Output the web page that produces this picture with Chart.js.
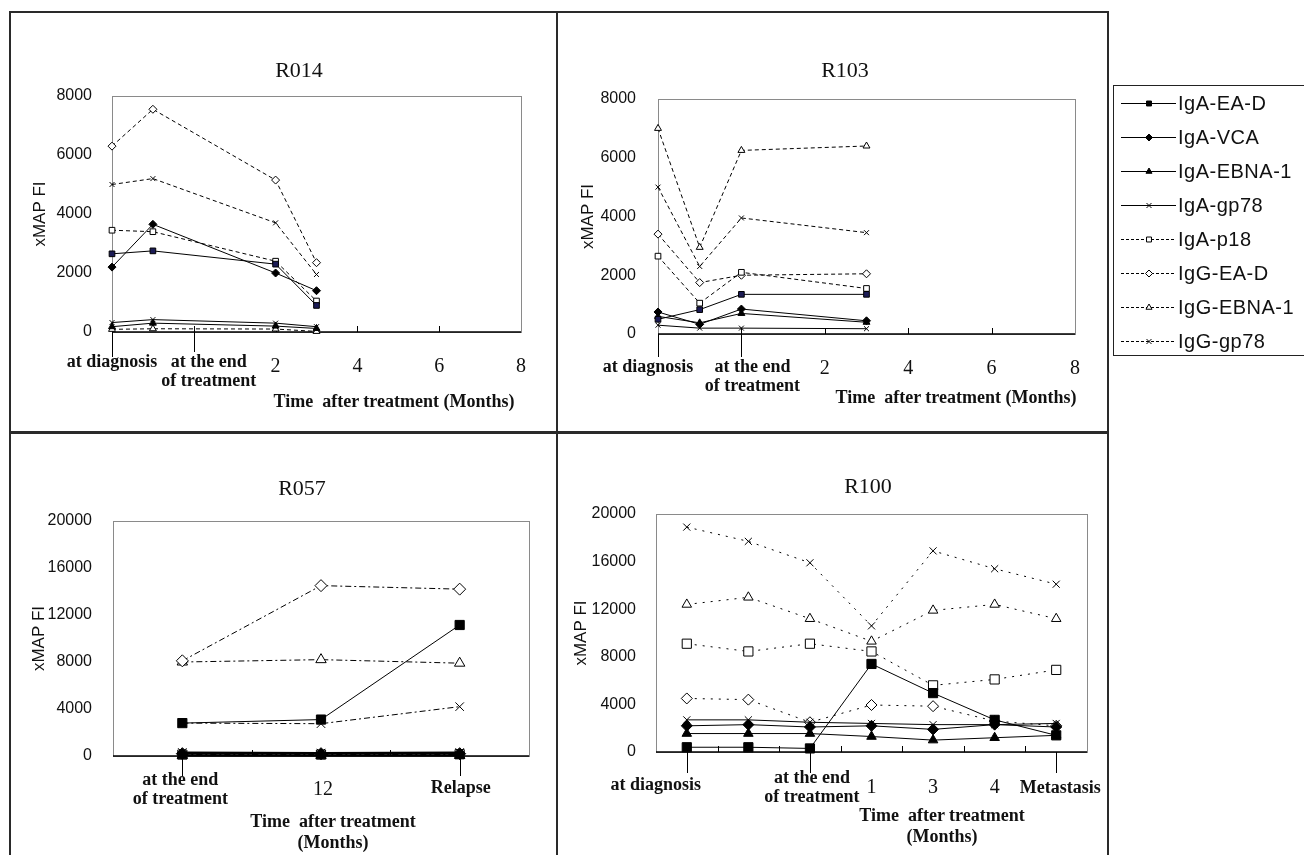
<!DOCTYPE html>
<html>
<head>
<meta charset="utf-8">
<script src="https://cdn.jsdelivr.net/npm/chart.js@4.4.1/dist/chart.umd.min.js"></script>
<style>
  html, body { margin: 0; padding: 0; background: #fff; }
  body { width: 1304px; height: 855px; position: relative; overflow: hidden; }
  .rule { position: absolute; background: #2a2a2a; }
  .panel { position: absolute; }
  .ttl { position: absolute; font-family: "Liberation Serif", serif; font-size: 22px; color: #111;
         transform: translate(-50%, -50%); white-space: nowrap; }
  .xt { position: absolute; font-family: "Liberation Serif", serif; font-weight: bold; font-size: 18px;
        color: #111; transform: translate(-50%, -50%); white-space: nowrap; text-align: center; line-height: 21px; }
  #legend { position: absolute; left: 1113px; top: 85px; width: 220px; height: 271px;
            border: 1.5px solid #222; box-sizing: border-box; }
  .lrow { position: absolute; left: 0; height: 24px; display: flex; align-items: center; }
  .lrow span { font-family: "Liberation Sans", Arial, sans-serif; font-size: 20px; letter-spacing: 0.5px;
               color: #111; margin-left: 2px; }
</style>
</head>
<body>
<div class="rule" style="left:9px;top:11px;width:1100px;height:2px"></div>
<div class="rule" style="left:9px;top:431px;width:1100px;height:3px"></div>
<div class="rule" style="left:9px;top:11px;width:2px;height:844px"></div>
<div class="rule" style="left:556px;top:11px;width:2px;height:844px"></div>
<div class="rule" style="left:1107px;top:11px;width:2px;height:844px"></div>

<canvas id="r014" class="panel" width="544" height="417" style="left:12px;top:14px"></canvas>
<canvas id="r103" class="panel" width="547" height="417" style="left:559px;top:14px"></canvas>
<canvas id="r057" class="panel" width="544" height="420" style="left:12px;top:435px"></canvas>
<canvas id="r100" class="panel" width="547" height="420" style="left:559px;top:435px"></canvas>

<div class="ttl" style="left:299px;top:70px">R014</div>
<div class="ttl" style="left:845px;top:70px">R103</div>
<div class="ttl" style="left:302px;top:488px">R057</div>
<div class="ttl" style="left:868px;top:486px">R100</div>

<div class="xt" style="left:394px;top:401px">Time&nbsp; after treatment (Months)</div>
<div class="xt" style="left:956px;top:397px">Time&nbsp; after treatment (Months)</div>
<div class="xt" style="left:333px;top:832px">Time&nbsp; after treatment<br>(Months)</div>
<div class="xt" style="left:942px;top:826px">Time&nbsp; after treatment<br>(Months)</div>

<div id="legend"></div>

<script>
const seriesNames = ['IgA-EA-D', 'IgA-VCA', 'IgA-EBNA-1', 'IgA-gp78', 'IgA-p18', 'IgG-EA-D', 'IgG-EBNA-1', 'IgG-gp78'];

// top panels: months, -2 = at diagnosis, 0 = end of treatment
const monthTicks = [-2, 0, 2, 4, 6, 8];
const monthTickLabels = [['at diagnosis'], ['at the end', 'of treatment'], ['2'], ['4'], ['6'], ['8']];

// R014
const r014Months    = [-2, -1, 2, 3];
const r014IgAEAD    = [2650, 2750, 2300, 900];
const r014IgAVCA    = [2200, 3650, 2000, 1400];
const r014IgAEBNA1  = [180, 300, 200, 120];
const r014IgAgp78   = [320, 420, 300, 180];
const r014IgAp18    = [3450, 3400, 2400, 1050];
const r014IgGEAD    = [6300, 7550, 5150, 2350];
const r014IgGEBNA1  = [90, 110, 100, 20];
const r014IgGgp78   = [5000, 5200, 3700, 1950];

// R103
const r103Months    = [-2, -1, 0, 3];
const r103IgAEAD    = [500, 830, 1350, 1350];
const r103IgAVCA    = [750, 330, 850, 450];
const r103IgAEBNA1  = [600, 380, 700, 400];
const r103IgAgp78   = [300, 200, 200, 180];
const r103IgAp18    = [2650, 1050, 2100, 1550];
const r103IgGEAD    = [3400, 1750, 2000, 2050];
const r103IgGEBNA1  = [7000, 2950, 6250, 6400];
const r103IgGgp78   = [5000, 2300, 3950, 3450];

// R057
const r057Labels    = [['at the end', 'of treatment'], ['12'], ['Relapse']];
const r057IgAEAD    = [2800, 3100, 11150];
const r057IgAVCA    = [200, 200, 200];
const r057IgAEBNA1  = [50, 50, 50];
const r057IgAgp78   = [300, 250, 300];
const r057IgAp18    = [120, 120, 150];
const r057IgGEAD    = [8100, 14500, 14200];
const r057IgGEBNA1  = [8000, 8200, 7900];
const r057IgGgp78   = [2800, 2750, 4200];

// R100
const r100Labels    = [['at diagnosis'], [''], ['at the end', 'of treatment'], ['1'], ['3'], ['4'], ['Metastasis']];
const r100IgAEAD    = [400, 400, 300, 7400, 4950, 2700, 1400];
const r100IgAVCA    = [2200, 2300, 2100, 2200, 1900, 2300, 2100];
const r100IgAEBNA1  = [1550, 1550, 1550, 1300, 1000, 1200, 1400];
const r100IgAgp78   = [2700, 2700, 2500, 2400, 2300, 2300, 2400];
const r100IgAp18    = [9100, 8450, 9100, 8450, 5600, 6100, 6900];
const r100IgGEAD    = [4500, 4400, 2500, 3950, 3850, 2600, 2200];
const r100IgGEBNA1  = [12400, 13000, 11200, 9300, 11900, 12400, 11200];
const r100IgGgp78   = [18900, 17700, 15900, 10600, 16900, 15400, 14100];

// marker look of each series, same order as seriesNames
const markers = [
  { style: 'rect', fill: true, dashed: false },
  { style: 'rectRot', fill: true, dashed: false },
  { style: 'triangle', fill: true, dashed: false },
  { style: 'crossRot', fill: false, dashed: false },
  { style: 'rect', fill: false, dashed: true },
  { style: 'rectRot', fill: false, dashed: true },
  { style: 'triangle', fill: false, dashed: true },
  { style: 'crossRot', fill: false, dashed: true }
];

const serif = '"Liberation Serif", "Times New Roman", serif';
const sans = '"Liberation Sans", Arial, sans-serif';

let buildSets = (xs, lists, look) => {
  return lists.map((vals, i) => {
    const m = markers[i];
    let fillColor = '#fff';
    if (m.fill) fillColor = i === 0 ? look.squareFill : '#000';
    return {
      label: seriesNames[i],
      data: xs ? vals.map((v, k) => ({ x: xs[k], y: v })) : vals,
      borderColor: '#000',
      borderWidth: look.width ? look.width(i) : 1,
      borderDash: m.dashed ? look.dash : [],
      pointStyle: m.style,
      pointRadius: look.radius[m.style],
      pointBackgroundColor: fillColor,
      pointBorderColor: '#000',
      pointBorderWidth: 1,
      tension: 0,
      fill: false,
      clip: false
    };
  });
};

// plot box, the black x axis and its tick marks
const framePlugin = {
  id: 'frame',
  beforeDatasetsDraw(chart, args, opts) {
    const { ctx, chartArea: a, scales } = chart;
    const x = scales.x;
    ctx.save();
    ctx.strokeStyle = '#8a8a8a';
    ctx.lineWidth = 1;
    ctx.strokeRect(a.left + 0.5, a.top + 0.5, a.right - a.left, a.bottom - a.top);
    ctx.strokeStyle = '#000';
    ctx.lineWidth = 1.5;
    ctx.beginPath();
    ctx.moveTo(a.left, a.bottom);
    ctx.lineTo(a.right, a.bottom);
    ctx.stroke();
    ctx.lineWidth = 1;
    ctx.beginPath();
    (opts.up || []).forEach(v => {
      const px = Math.round(opts.between ? (x.getPixelForValue(v - 1) + x.getPixelForValue(v)) / 2 : x.getPixelForValue(v)) + 0.5;
      ctx.moveTo(px, a.bottom);
      ctx.lineTo(px, a.bottom - 6);
    });
    (opts.down || []).forEach(d => {
      const px = Math.round(x.getPixelForValue(d.v)) + 0.5;
      ctx.moveTo(px, a.bottom);
      ctx.lineTo(px, a.bottom + d.len);
    });
    ctx.stroke();
    ctx.restore();
  }
};

// x tick labels: bold serif words, plain serif numbers
const xLabelPlugin = {
  id: 'xLabels',
  afterDraw(chart, args, opts) {
    const { ctx, chartArea: a, scales } = chart;
    ctx.save();
    ctx.fillStyle = '#111';
    ctx.textAlign = 'center';
    ctx.textBaseline = 'middle';
    opts.labels.forEach((lines, i) => {
      const off = opts.offsets[i] || { dx: 0, dy: 30 };
      const px = scales.x.getPixelForValue(opts.values[i]) + off.dx;
      lines.forEach((t, k) => {
        const isNum = /^\d+$/.test(t);
        ctx.font = isNum ? '20px ' + serif : 'bold 18px ' + serif;
        ctx.fillText(t, px, a.bottom + off.dy + k * 19);
      });
    });
    ctx.restore();
  }
};

let panel = (id, data, xScale, cfg) => {
  const chart = document.getElementById(id);
  new Chart(chart, {
    type: 'line',
    data: data,
    plugins: [framePlugin, xLabelPlugin],
    options: {
      responsive: false,
      animation: false,
      events: [],
      layout: { padding: cfg.pad },
      plugins: {
        legend: { display: false },
        tooltip: { enabled: false },
        frame: cfg.frame,
        xLabels: cfg.xLabels
      },
      scales: {
        x: Object.assign({
          ticks: { display: false },
          grid: { display: false },
          border: { display: false },
          afterFit: s => {
            s.height = 60;
            s.paddingLeft = s.paddingRight = s.paddingTop = s.paddingBottom = 0;
          }
        }, xScale),
        y: {
          min: 0,
          max: cfg.yMax,
          ticks: {
            stepSize: cfg.yStep,
            padding: cfg.tickPad,
            color: '#111',
            font: { family: sans, size: 16 },
            callback: function (value) {
                // no thousands separator, as in the original
                return value.toString();
            }
          },
          grid: { display: false },
          border: { display: false },
          title: { display: true, text: 'xMAP FI', color: '#111', font: { family: sans, size: 17 }, padding: { top: 4, bottom: 0 } },
          afterFit: s => {
            s.width = cfg.yWidth;
            s.paddingLeft = s.paddingRight = s.paddingTop = s.paddingBottom = 0;
          }
        }
      }
    }
  });
};

const topLook = { dash: [4, 3], squareFill: '#1b1b55', radius: { rect: 4, rectRot: 4, triangle: 4, crossRot: 3.5 } };
// the four near-zero IgA series form a heavy band at the bottom of R057
const r057Look = { dash: [6, 3, 2, 3], squareFill: '#000', width: i => (i >= 1 && i <= 4 ? 2 : 1),
                   radius: { rect: 6.5, rectRot: 6, triangle: 6, crossRot: 6 } };
const r100Look = { dash: [2, 6], squareFill: '#000', radius: { rect: 6.5, rectRot: 5.5, triangle: 5.5, crossRot: 5 } };

panel('r014',
  { datasets: buildSets(r014Months, [r014IgAEAD, r014IgAVCA, r014IgAEBNA1, r014IgAgp78, r014IgAp18, r014IgGEAD, r014IgGEBNA1, r014IgGgp78], topLook) },
  { type: 'linear', min: -2, max: 8 },
  {
    pad: { left: 14, top: 82, right: 35, bottom: 39 }, yWidth: 86, yMax: 8000, yStep: 2000, tickPad: 12,
    frame: { up: [0, 2, 4, 6], down: [{ v: -2, len: 25 }, { v: 0, len: 20 }] },
    xLabels: { values: monthTicks, labels: monthTickLabels,
      offsets: [{ dx: 0, dy: 30 }, { dx: 15, dy: 30 }, { dx: 0, dy: 35 }, { dx: 0, dy: 35 }, { dx: 0, dy: 35 }, { dx: 0, dy: 35 }] }
  });

panel('r103',
  { datasets: buildSets(r103Months, [r103IgAEAD, r103IgAVCA, r103IgAEBNA1, r103IgAgp78, r103IgAp18, r103IgGEAD, r103IgGEBNA1, r103IgGgp78], topLook) },
  { type: 'linear', min: -2, max: 8 },
  {
    pad: { left: 15, top: 85, right: 31, bottom: 37 }, yWidth: 84, yMax: 8000, yStep: 2000, tickPad: 14,
    frame: { up: [0, 2, 4, 6], down: [{ v: -2, len: 23 }, { v: 0, len: 23 }] },
    xLabels: { values: monthTicks, labels: monthTickLabels,
      offsets: [{ dx: -10, dy: 33 }, { dx: 11, dy: 33 }, { dx: 0, dy: 35 }, { dx: 0, dy: 35 }, { dx: 0, dy: 35 }, { dx: 0, dy: 35 }] }
  });

panel('r057',
  { labels: r057Labels.map(l => l.join(' ')),
    datasets: buildSets(null, [r057IgAEAD, r057IgAVCA, r057IgAEBNA1, r057IgAgp78, r057IgAp18, r057IgGEAD, r057IgGEBNA1, r057IgGgp78], r057Look) },
  { type: 'category', offset: true },
  {
    pad: { left: 13, top: 86, right: 27, bottom: 39 }, yWidth: 88, yMax: 20000, yStep: 4000, tickPad: 13,
    frame: { between: true, up: [1, 2], down: [{ v: 0, len: 20 }, { v: 2, len: 20 }] },
    xLabels: { values: [0, 1, 2], labels: r057Labels,
      offsets: [{ dx: -2, dy: 24 }, { dx: 2, dy: 34 }, { dx: 1, dy: 32 }] }
  });

panel('r100',
  { labels: r100Labels.map(l => l.join(' ')),
    datasets: buildSets(null, [r100IgAEAD, r100IgAVCA, r100IgAEBNA1, r100IgAgp78, r100IgAp18, r100IgGEAD, r100IgGEBNA1, r100IgGgp78], r100Look) },
  { type: 'category', offset: true },
  {
    pad: { left: 8, top: 79, right: 19, bottom: 43 }, yWidth: 89, yMax: 20000, yStep: 4000, tickPad: 12,
    frame: { between: true, up: [1, 2, 3, 4, 5, 6], down: [{ v: 0, len: 21 }, { v: 2, len: 21 }, { v: 6, len: 21 }] },
    xLabels: { values: [0, 1, 2, 3, 4, 5, 6], labels: r100Labels,
      offsets: [{ dx: -31, dy: 33 }, { dx: 0, dy: 33 }, { dx: 2, dy: 26 }, { dx: 0, dy: 36 }, { dx: 0, dy: 36 }, { dx: 0, dy: 36 }, { dx: 4, dy: 36 }] }
  });

// legend: line sample with marker, then the name
let buildLegend = () => {
  const box = document.getElementById('legend');
  seriesNames.forEach((name, i) => {
    const m = markers[i];
    const row = document.createElement('div');
    row.className = 'lrow';
    row.style.top = (5 + i * 34) + 'px';
    const icon = document.createElement('canvas');
    icon.width = 62;
    icon.height = 20;
    const ctx = icon.getContext('2d');
    ctx.strokeStyle = '#000';
    ctx.lineWidth = 1;
    ctx.setLineDash(m.dashed ? [3, 2] : []);
    ctx.beginPath();
    ctx.moveTo(7, 10.5);
    ctx.lineTo(62, 10.5);
    ctx.stroke();
    ctx.setLineDash([]);
    ctx.fillStyle = m.fill ? '#000' : '#fff';
    Chart.helpers.drawPoint(ctx, { pointStyle: m.style, radius: 3.5, borderWidth: 1, rotation: 0 }, 35, 10.5);
    const label = document.createElement('span');
    label.textContent = name;
    row.appendChild(icon);
    row.appendChild(label);
    box.appendChild(row);
  });
};
buildLegend();
</script>
</body>
</html>
